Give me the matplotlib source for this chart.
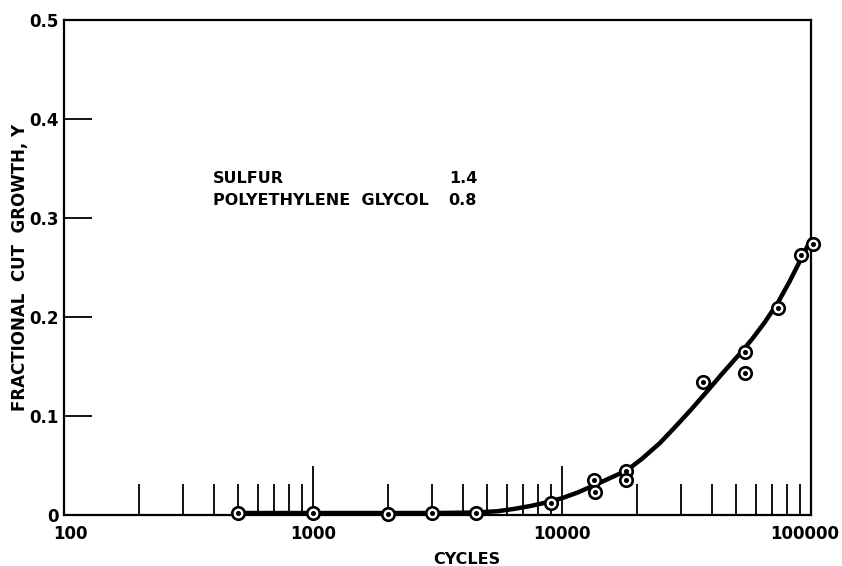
import matplotlib.pyplot as plt
from matplotlib.ticker import LogLocator, NullFormatter, FixedLocator
from matplotlib.transforms import ScaledTranslation

# measured points (cycles, fractional cut growth)
cycles = [500, 1000, 2000, 3000, 4500, 9000, 13400, 13600, 18000, 18000,
          36700, 54300, 54300, 73700, 91200, 101600]
growth = [0.002, 0.002, 0.001, 0.002, 0.002, 0.012, 0.035, 0.023, 0.044, 0.035,
          0.134, 0.165, 0.143, 0.209, 0.263, 0.274]

# hand drawn fitted curve
curve_x = [500, 1000, 2000, 3000, 4500, 5500, 6400, 7500, 8700, 10000,
           11500, 13300, 15500, 18200, 21000, 24800, 29000, 33000, 38200,
           44000, 51900, 58000, 65000, 73700, 82000, 91200, 100000]
curve_y = [0.002, 0.002, 0.002, 0.002, 0.0025, 0.0038, 0.0061, 0.0092, 0.0128, 0.017,
           0.0225, 0.0294, 0.037, 0.045, 0.057, 0.073, 0.0911, 0.1065, 0.1248,
           0.1428, 0.1632, 0.1777, 0.1942, 0.2147, 0.2358, 0.2588, 0.2785]

x_ticks = [100, 1000, 10000, 100000]
x_labels = ["100", "1000", "10000", "100000"]
y_ticks = [0, 0.1, 0.2, 0.3, 0.4, 0.5]
y_labels = ["0", "0.1", "0.2", "0.3", "0.4", "0.5"]

compound_names = ["SULFUR", "POLYETHYLENE  GLYCOL"]
compound_values = ["1.4", "0.8"]

plt.rcParams['font.family'] = 'DejaVu Sans'
plt.rcParams['font.weight'] = 'bold'

fig = plt.figure(figsize=(8.42, 5.66), dpi=100)
ax = fig.add_axes([64 / 842, 1 - 515 / 566, 747 / 842, 495 / 566])

ax.plot(curve_x, curve_y, color='black', lw=3.2, solid_capstyle='round',
        solid_joinstyle='round', zorder=2)
ax.plot(cycles, growth, 'o', ms=9, mfc='white', mec='black', mew=1.9,
        zorder=3, clip_on=False)
ax.plot(cycles, growth, 'o', ms=2.6, color='black', zorder=4, clip_on=False)

ax.set_xscale('log')
ax.set_xlim(100, 100000)
ax.set_ylim(0, 0.5)

ax.xaxis.set_major_locator(FixedLocator(x_ticks))
ax.set_xticklabels(x_labels)
ax.xaxis.set_minor_locator(LogLocator(base=10, subs=range(2, 10)))
ax.xaxis.set_minor_formatter(NullFormatter())
ax.set_yticks(y_ticks)
ax.set_yticklabels(y_labels)

ax.tick_params(axis='x', which='major', direction='in', length=35, width=1.3,
               pad=7, labelsize=12)
ax.tick_params(axis='x', which='minor', direction='in', length=22, width=1.3)
ax.tick_params(axis='y', which='major', direction='in', length=20, width=1.3,
               pad=4, labelsize=12)

# nudge the end labels like the original lettering
xl = ax.get_xticklabels()
xl[0].set_transform(xl[0].get_transform() + ScaledTranslation(6 / 100, 0, fig.dpi_scale_trans))
xl[-1].set_transform(xl[-1].get_transform() + ScaledTranslation(-6 / 100, 0, fig.dpi_scale_trans))

for s in ax.spines.values():
    s.set_linewidth(1.6)

ax.set_ylabel("FRACTIONAL  CUT  GROWTH, Y", fontsize=12, fontweight='bold',
              labelpad=0)
fig.text(467 / 842, 1 - 564 / 566, "CYCLES", fontsize=11.5, fontweight='bold',
         ha='center', va='baseline')

rows_y = [0.679, 0.636]
for name, val, yy in zip(compound_names, compound_values, rows_y):
    ax.text(0.1995, yy, name, transform=ax.transAxes, fontsize=11.5,
            fontweight='bold', ha='left', va='center')
    ax.text(0.553, yy, val, transform=ax.transAxes, fontsize=11.5,
            fontweight='bold', ha='right', va='center')

fig.savefig('out.png', dpi=100)
